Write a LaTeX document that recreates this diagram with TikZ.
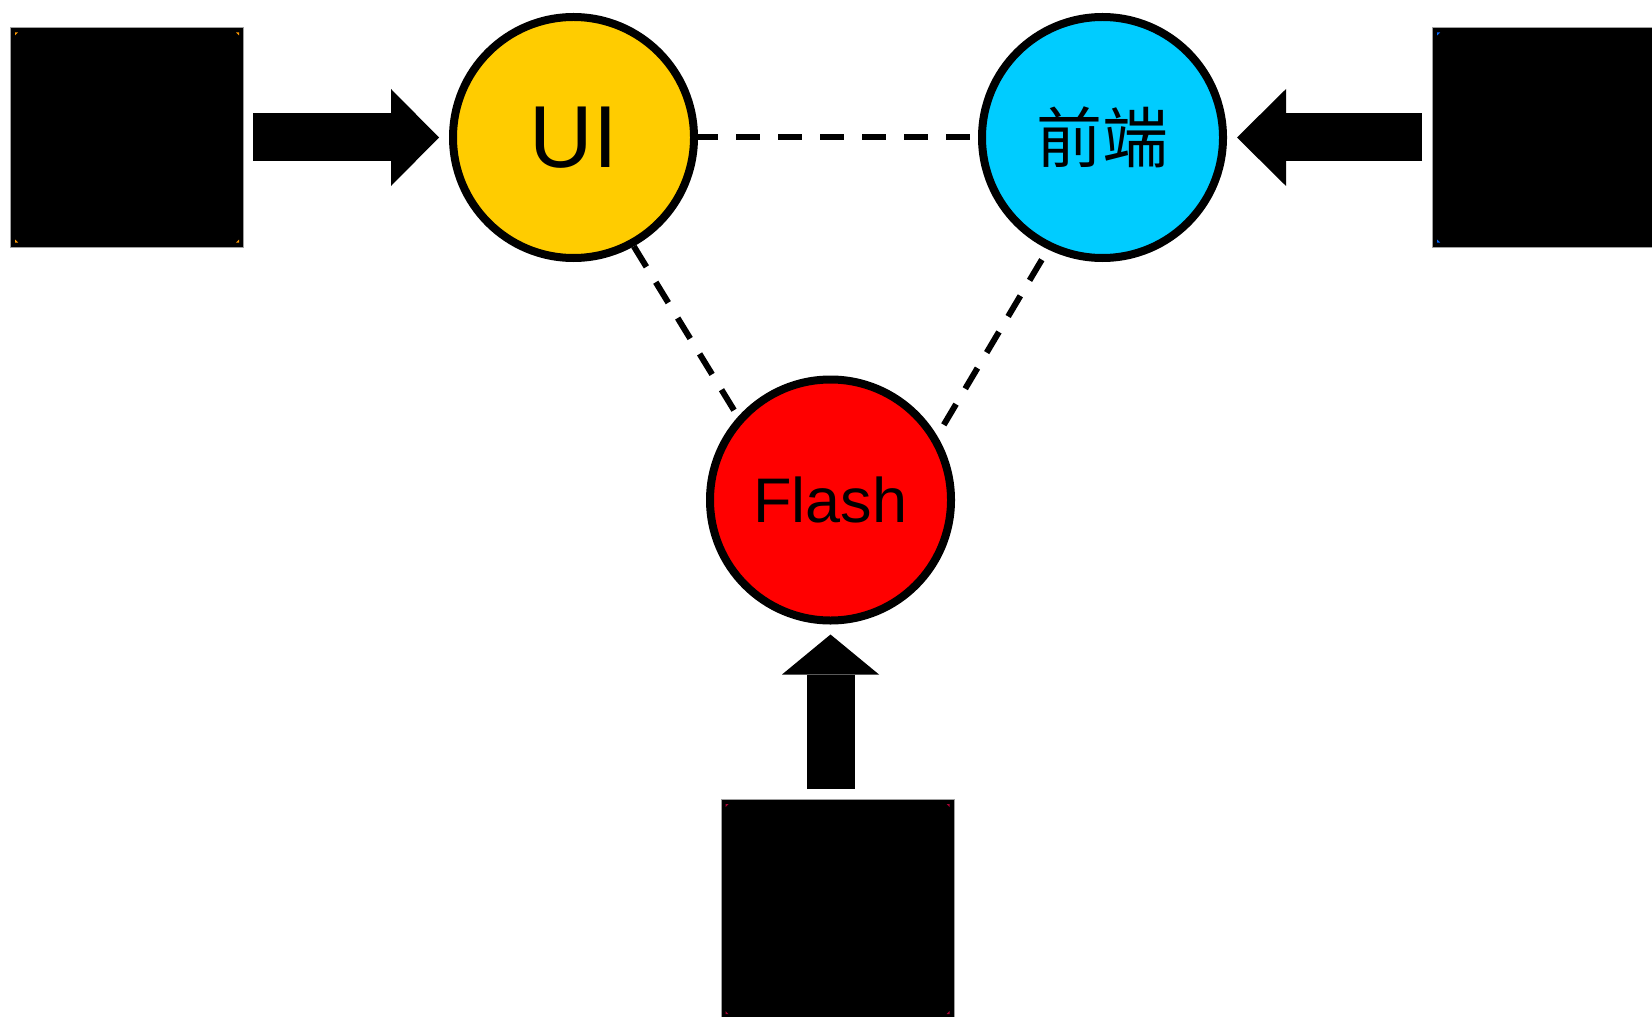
\documentclass[tikz,border=0pt]{standalone}
\usepackage{fontspec}
\setmainfont{Liberation Sans}
\newfontfamily\cjk{Noto Sans CJK SC}
\usetikzlibrary{arrows.meta, calc}
\definecolor{uiyellow}{RGB}{255, 204, 0}
\definecolor{fecyan}{RGB}{0, 204, 255}
\definecolor{flashred}{RGB}{255, 0, 0}
\definecolor{markorange}{RGB}{255, 153, 0}
\definecolor{markblue}{RGB}{0, 102, 255}
\definecolor{markred}{RGB}{170, 0, 51}
\definecolor{boxgray}{RGB}{160, 160, 160}
\tikzset{
  imgbox/.style={draw=boxgray, line width=0.5pt, fill=black, inner sep=0pt,
    minimum width=116.5pt, minimum height=109.5pt},
  topic/.style={circle, draw=black, line width=4pt, inner sep=0pt, minimum size=120.5pt},
  pusharrow/.style={line width=24pt, shorten <=5pt, shorten >=5pt},
  link/.style={line width=3pt, dash pattern=on 12pt off 9pt},
}
% tiny coloured marks in the corners of a box
\newcommand{\cornermarks}[2]{%
  \fill[#2] ($(#1.north west)+(5,5)$) -- ++(3,0) -- ++(-3,3) -- cycle;
  \fill[#2] ($(#1.north east)+(-5,5)$) -- ++(-3,0) -- ++(3,3) -- cycle;
  \fill[#2] ($(#1.south west)+(5,-5)$) -- ++(3,0) -- ++(-3,-3) -- cycle;
  \fill[#2] ($(#1.south east)+(-5,-5)$) -- ++(-3,0) -- ++(3,-3) -- cycle;
}

\begin{document}
\begin{tikzpicture}[x=0.5pt, y=-0.5pt]
  \clip (0,0) rectangle (1652,1016);

  % Image boxes
  \node[imgbox] (leftbox) at (127,137.5) {};
  \node[imgbox] (rightbox) at (1549,137.5) {};
  \node[imgbox] (bottombox) at (837.5,909) {};
  \cornermarks{leftbox}{markorange}
  \cornermarks{rightbox}{markblue}
  \cornermarks{bottombox}{markred}

  % Topics
  \node[topic, fill=uiyellow, font=\fontsize{44}{50}\selectfont] (ui) at (573.5,137.5) {UI};
  \node[topic, fill=fecyan, font=\cjk\fontsize{33}{38}\selectfont] (fe) at (1102.5,137.5) {前端};
  \node[topic, fill=flashred, font=\fontsize{31.5}{36}\selectfont] (flash) at (830.5,500) {Flash};

  % Dashed links
  \draw[link, dash phase=2pt] (ui) -- (fe);
  \draw[link] (ui.-61) -- (flash.138);
  \draw[link, dash phase=15pt] (fe.-116) -- (flash.31);

  % Block arrows
  \draw[pusharrow, shorten <=4.5pt, -{Triangle[length=24pt, width=48.5pt, line width=0pt]}] (leftbox) -- (ui);
  \draw[pusharrow, -{Triangle[length=24.5pt, width=48.5pt, line width=0pt]}] (rightbox) -- (fe);
  \draw[pusharrow, -{Triangle[length=20pt, width=48.5pt, line width=0pt]}] (flash |- bottombox.north) -- (flash);
\end{tikzpicture}
\end{document}
